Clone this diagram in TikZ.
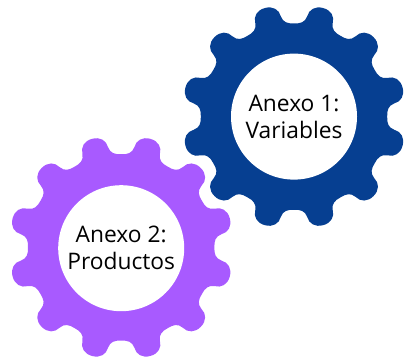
\documentclass[tikz,border=0pt]{standalone}
\usepackage{fontspec}
\setmainfont{Open Sans}
\definecolor{gearblue}{HTML}{063F91}
\definecolor{gearpurple}{HTML}{A85AFF}
\tikzset{
    pics/gearwheel/.style={code={
        \fill[pic actions] (0:2.33)
        \foreach \t in {15,45,...,345}{
            .. controls ({\t-11}:2.33) and ({\t-8.4}:2.37) .. ({\t-7.5}:2.53)
            .. controls ({\t-7.1}:2.7) and ({\t-4.2}:2.82) .. (\t:2.81)
            .. controls ({\t+4.2}:2.82) and ({\t+7.1}:2.7) .. ({\t+7.5}:2.53)
            .. controls ({\t+8.4}:2.37) and ({\t+11}:2.33) .. ({\t+15}:2.33)
        } -- cycle;
    }},
    hub/.style={circle,fill=white,minimum size=3.15cm,inner sep=0pt,align=center,
        font=\fontsize{16.2}{19}\selectfont,text=black}
}
\begin{document}
\begin{tikzpicture}
    \useasboundingbox (0,0) rectangle (10.25,9.025);

    % gears
    \pic[fill=gearblue] at (7.35,6.11) {gearwheel};
    \pic[fill=gearpurple] at (3.03,2.84) {gearwheel};

    % labels
    \node[hub] (anexouno) at (7.35,6.11) {Anexo 1:\\Variables};
    \node[hub] (anexodos) at (3.03,2.82) {Anexo 2:\\Productos};
\end{tikzpicture}
\end{document}
